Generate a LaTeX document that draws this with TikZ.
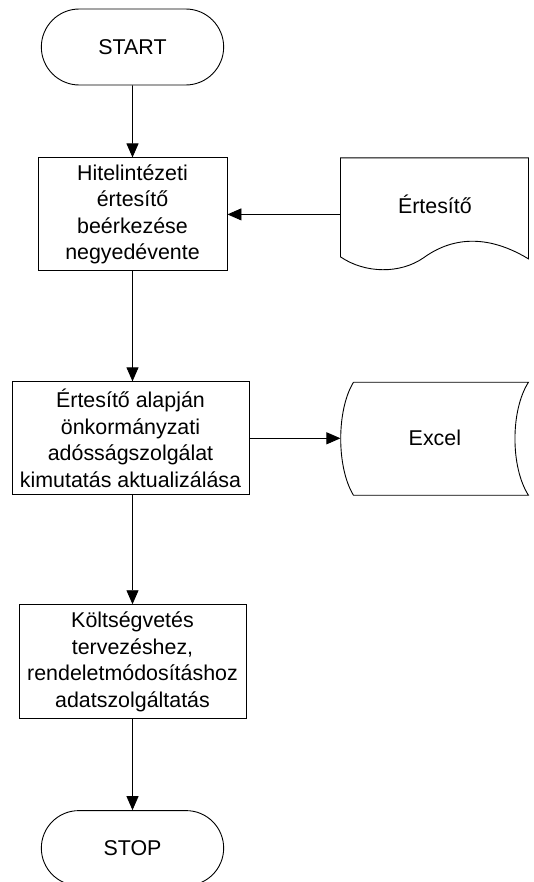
\documentclass[tikz,border=0pt]{standalone}
\usepackage{fontspec}
\setmainfont{Liberation Sans}
\usetikzlibrary{arrows.meta, positioning, shapes.misc}

\begin{document}
\begin{tikzpicture}[
  x=1pt, y=1pt,
  line width=0.9pt,
  >={Triangle[length=14pt, width=12pt]},
  every node/.style={font=\fontsize{21.4}{26.6}\selectfont},
  terminal/.style={draw, rounded rectangle, minimum width=189pt,
                   minimum height=76pt},
  process/.style={draw, rectangle, minimum height=113pt, align=center,
                  inner sep=2pt},
  flow/.style={->}
]
  \useasboundingbox (0,0) rectangle (533,-882);

  \node[terminal] (start) at (132.5,-47) {START};
  \node[process, minimum width=189pt, below=72pt of start] (receipt)
    {Hitelintézeti\\értesítő\\beérkezése\\negyedévente};
  \node[process, minimum width=237pt, below=110pt of receipt, xshift=-2pt] (update)
    {Értesítő alapján\\önkormányzati\\adósságszolgálat\\kimutatás aktualizálása};
  \node[process, minimum width=227pt, minimum height=114pt,
        below=109pt of update, xshift=2pt] (supply)
    {Költségvetés\\tervezéshez,\\rendeletmódosításhoz\\adatszolgáltatás};
  \node[terminal, minimum height=75pt, below=91pt of supply] (stop) {STOP};

  % document and stored data shapes on the right
  \node[minimum width=188pt, minimum height=114pt, right=113pt of receipt,
        label={[yshift=10pt]center:Értesítő}] (notice) {};
  \node[minimum width=188pt, minimum height=113pt, right=91pt of update] (excel)
    {Excel};

  \begin{scope}[shift={(notice.south west)}]
    \draw (0,15) -- (0,114) -- (188,114) -- (188,13)
      .. controls (140,42) and (105,30) .. (83,14)
      .. controls (60,-2) and (25,-2) .. (0,15);
  \end{scope}
  \begin{scope}[shift={(excel.south west)}]
    \draw (13,113) -- (188,113)
      .. controls (170,85) and (170,28) .. (188,0)
      -- (13,0)
      .. controls (-4,28) and (-4,85) .. (13,113);
  \end{scope}

  \draw[flow] (start) -- (receipt);
  \draw[flow] (notice) -- (receipt);
  \draw[flow] (receipt.south) -- (receipt.south |- update.north);
  \draw[flow] (update) -- (excel);
  \draw[flow] (supply.north |- update.south) -- (supply.north);
  \draw[flow] (supply) -- (stop);
\end{tikzpicture}
\end{document}
